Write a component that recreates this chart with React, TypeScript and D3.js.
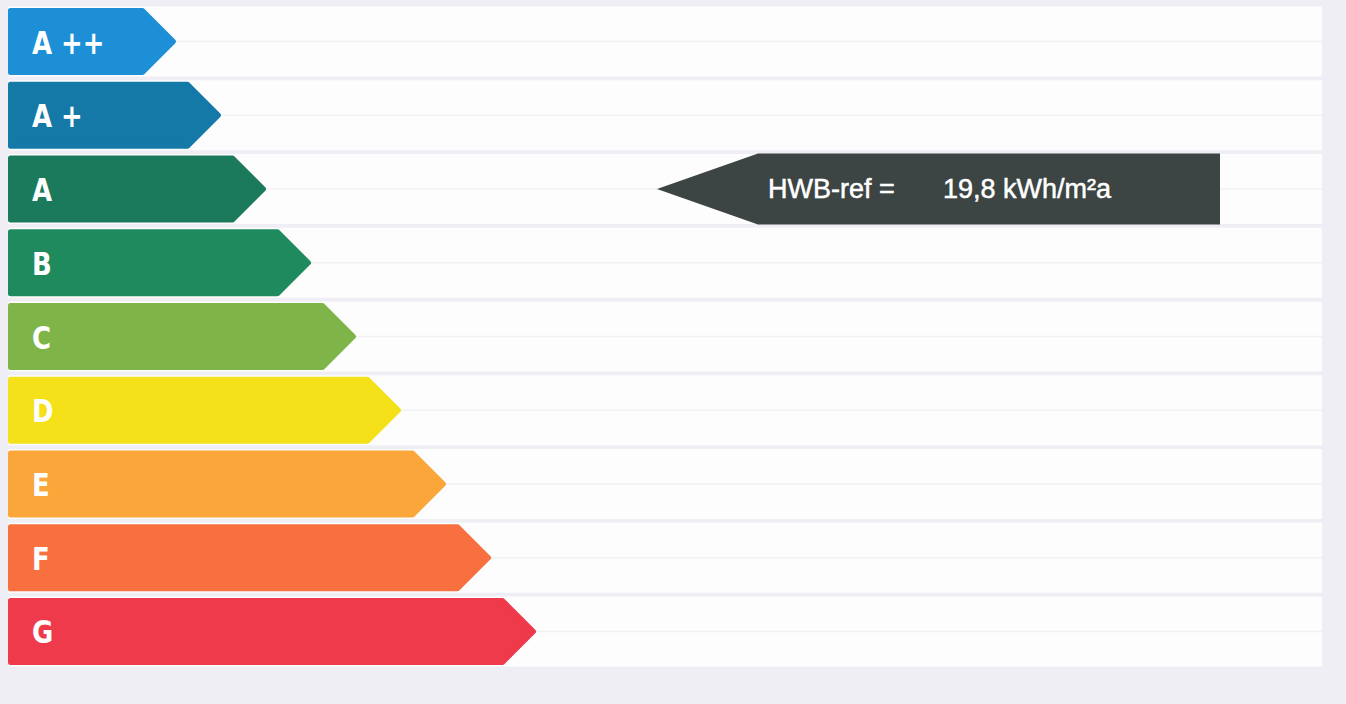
import * as d3 from 'd3';

const CLASSES = ['A ++', 'A +', 'A', 'B', 'C', 'D', 'E', 'F', 'G'];
const CLASS_COLORS = ['#1d8fd6', '#1479a6', '#1b7a5b', '#1f8a5e', '#7fb548', '#f5e11a', '#fba63a', '#f86f40', '#ef3a4b'];
// bar length rank (each class one step longer than the previous)
const BAR_RANK = [1, 2, 3, 4, 5, 6, 7, 8, 9];

const HWB_CLASS = 'A';
const HWB_LABEL = 'HWB-ref =';
const HWB_VALUE = '19,8 kWh/m²a';

const W = 1346;
const H = 704;

export default function App() {
  const y = d3.scaleBand<string>().domain(CLASSES).range([8, 665]).paddingInner(0.0915);
  const x = d3.scaleLinear().domain([0, 9]).range([131, 536]);
  const bw = y.bandwidth();
  const left = 8;
  const panelRight = 1322;

  const barPath = (label: string, rank: number) => {
    const y0 = y(label)! + 2.5;
    const h = bw - 5;
    const tip = x(rank) - 2.5;
    const d = h / 2;
    const p = d3.path();
    p.moveTo(left + 2.5, y0);
    p.lineTo(tip - d, y0);
    p.lineTo(tip, y0 + d);
    p.lineTo(tip - d, y0 + h);
    p.lineTo(left + 2.5, y0 + h);
    p.closePath();
    return p.toString();
  };

  // HWB pointer
  const ay = y(HWB_CLASS)! - 2;
  const ah = bw + 4;
  const tipX = 657;
  const bodyX = 758;
  const bodyR = 1220;
  const arrow = d3.path();
  arrow.moveTo(tipX, ay + ah / 2);
  arrow.lineTo(bodyX, ay);
  arrow.lineTo(bodyR, ay);
  arrow.lineTo(bodyR, ay + ah);
  arrow.lineTo(bodyX, ay + ah);
  arrow.closePath();

  return (
    <svg
      width={W}
      height={H}
      style={{ position: 'absolute', left: 0, top: 0, display: 'block' }}
    >
      <rect width={W} height={H} fill="#eeeef4" />
      {/* row strips */}
      {CLASSES.map((c) => (
        <g key={'row' + c}>
          <rect x={left} y={y(c)! - 1.5} width={panelRight - left} height={bw + 3} fill="#fdfdfd" />
          <line
            x1={left}
            x2={panelRight}
            y1={y(c)! + bw / 2}
            y2={y(c)! + bw / 2}
            stroke="#f2f2f4"
            strokeWidth={1.5}
          />
        </g>
      ))}
      {/* class bars */}
      {CLASSES.map((c, i) => (
        <g key={c}>
          <path
            d={barPath(c, BAR_RANK[i])}
            fill={CLASS_COLORS[i]}
            stroke={CLASS_COLORS[i]}
            strokeWidth={5}
            strokeLinejoin="round"
          />
          <text
            transform={`translate(32,${y(c)! + bw / 2 + 12}) scale(0.9,1)`}
            fill="#ffffff"
            fontFamily="'Liberation Sans Narrow', 'DejaVu Sans Condensed', sans-serif"
            fontWeight="bold"
            fontSize={32}
          >
            {c}
          </text>
        </g>
      ))}
      {/* HWB indicator */}
      <path d={arrow.toString()} fill="#3c4543" />
      <text
        x={768}
        y={ay + ah / 2 + 9}
        fill="#ffffff"
        stroke="#ffffff"
        strokeWidth={0.5}
        fontFamily="'Liberation Sans', Arial, sans-serif"
        fontSize={27}
      >
        {HWB_LABEL}
      </text>
      <text
        x={943}
        y={ay + ah / 2 + 9}
        fill="#ffffff"
        stroke="#ffffff"
        strokeWidth={0.5}
        fontFamily="'Liberation Sans', Arial, sans-serif"
        fontSize={27}
      >
        {HWB_VALUE}
      </text>
    </svg>
  );
}
